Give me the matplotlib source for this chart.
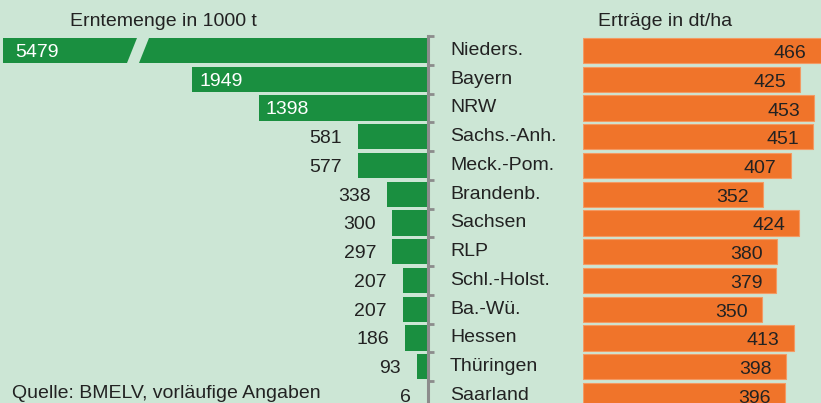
import matplotlib
matplotlib.use("Agg")
import matplotlib.pyplot as plt
from matplotlib.patches import Polygon
from matplotlib.transforms import offset_copy, blended_transform_factory
from matplotlib import font_manager

# ---- data ----
states = ["Nieders.", "Bayern", "NRW", "Sachs.-Anh.", "Meck.-Pom.", "Brandenb.",
          "Sachsen", "RLP", "Schl.-Holst.", "Ba.-Wü.", "Hessen", "Thüringen", "Saarland"]
harvest = [5479, 1949, 1398, 581, 577, 338, 300, 297, 207, 207, 186, 93, 6]      # 1000 t
yields = [466, 425, 453, 451, 407, 352, 424, 380, 379, 350, 413, 398, 396]        # dt/ha

title_left = "Erntemenge in 1000 t"
title_right = "Erträge in dt/ha"
source = "Quelle: BMELV, vorläufige Angaben"

# ---- style ----
BG = "#cce6d5"
GREEN = "#1a8f40"
ORANGE = "#f0742a"
GRAY = "#8c8c8c"
TXT = "#222222"
names = {f.name for f in font_manager.fontManager.ttflist}
if "Liberation Sans Narrow" in names:
    FONT, FS = "Liberation Sans Narrow", 16.5
else:
    FONT, FS = "Liberation Sans", 14

W, H = 821, 403
fig = plt.figure(figsize=(W / 100, H / 100), dpi=100, facecolor=BG)

n = len(states)
top_px, pitch = 50.5, 28.75
ax_top = top_px - pitch / 2
ax_bot = top_px + (n - 1) * pitch + pitch / 2
ybot = 1 - ax_bot / H
yh = (ax_bot - ax_top) / H

# left (harvest) axes
lx0, lx1 = 3, 428
scale = 0.121  # px per unit
axL = fig.add_axes([lx0 / W, ybot, (lx1 - lx0) / W, yh])
axL.set_facecolor("none")
xmax = (lx1 - lx0) / scale
axL.set_xlim(xmax, 0)
axL.set_ylim(n - 0.5, -0.5)
bh = 0.87
ypos = list(range(n))
axL.barh(ypos, harvest, height=bh, color=GREEN, linewidth=0)
for s in ["top", "bottom", "left"]:
    axL.spines[s].set_visible(False)
axL.spines["right"].set_color(GRAY)
axL.spines["right"].set_linewidth(2.2)
axL.set_xticks([])
axL.set_yticks([])
axL.set_yticks([i - 0.5 for i in range(n)], minor=True)
axL.yaxis.set_ticks_position("right")
axL.tick_params(axis="y", which="minor", direction="out", length=4.5, width=2,
                color=GRAY, labelright=False, labelleft=False)

# break marker on clipped bar
for i, v in enumerate(harvest):
    if v > xmax:
        tr = blended_transform_factory(axL.transAxes, axL.transData)
        fb0, fb1 = (127 - lx0) / (lx1 - lx0), (139 - lx0) / (lx1 - lx0)
        ft0, ft1 = (137 - lx0) / (lx1 - lx0), (149 - lx0) / (lx1 - lx0)
        poly = Polygon([(fb0, i + bh / 2), (fb1, i + bh / 2), (ft1, i - bh / 2), (ft0, i - bh / 2)],
                       closed=True, transform=tr, facecolor=BG, edgecolor="none", zorder=3)
        axL.add_patch(poly)

# harvest labels
for i, v in enumerate(harvest):
    if v >= 1000:
        xv = min(v, xmax)
        off = 12 if v > xmax else 7
        t = offset_copy(axL.transData, fig=fig, x=off, y=-2, units="dots")
        axL.text(xv, i, f"{v}", transform=t, ha="left", va="center", color="white",
                 fontsize=FS, family=FONT, zorder=4)
    else:
        t = offset_copy(axL.transData, fig=fig, x=-16, y=-2, units="dots")
        axL.text(v, i, f"{v}", transform=t, ha="right", va="center", color=TXT,
                 fontsize=FS, family=FONT, zorder=4)

# right (yield) axes
rx0, rx1 = 583, 821
rscale = 0.51
axR = fig.add_axes([rx0 / W, ybot, (rx1 - rx0) / W, yh])
axR.set_facecolor("none")
axR.set_xlim(0, (rx1 - rx0) / rscale)
axR.set_ylim(n - 0.5, -0.5)
axR.barh(ypos, yields, height=bh, color=ORANGE, edgecolor="#f39a63", linewidth=0.8)
axR.axis("off")
for i, v in enumerate(yields):
    t = offset_copy(axR.transData, fig=fig, x=-14, y=-3, units="dots")
    axR.text(v, i, f"{v}", transform=t, ha="right", va="center", color=TXT,
             fontsize=FS, family=FONT, clip_on=False)

# category labels
trc = blended_transform_factory(fig.transFigure, axL.transData)
for i, s in enumerate(states):
    fig.text(450 / W, i, s, transform=trc, ha="left", va="center", color=TXT,
             fontsize=FS, family=FONT)

# headings and source
fig.text(70 / W, 1 - 22 / H, title_left, ha="left", va="center", color=TXT,
         fontsize=FS, family=FONT)
fig.text(598 / W, 1 - 22 / H, title_right, ha="left", va="center", color=TXT,
         fontsize=FS, family=FONT)
fig.text(12 / W, 1 - 393 / H, source, ha="left", va="center", color=TXT,
         fontsize=FS, family=FONT)

fig.savefig("out.png", dpi=100, facecolor=BG)
